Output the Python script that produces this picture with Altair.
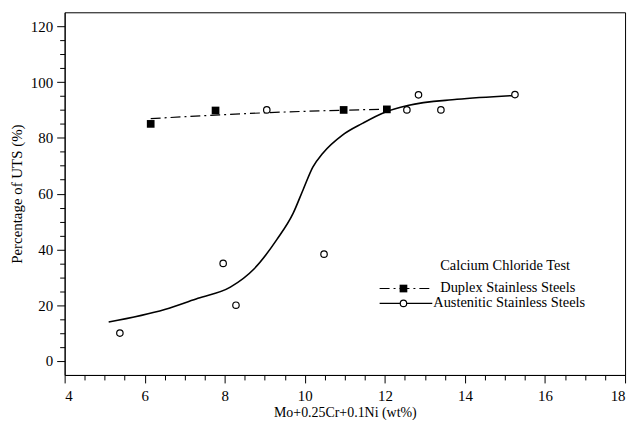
import altair as alt
import pandas as pd

duplex_x = [6.15, 7.77, 10.97, 12.05]
duplex_y = [85, 89.8, 90, 90.2]
aust_x = [5.38, 7.96, 8.28, 9.05, 10.48, 12.55, 12.84, 13.4, 15.25]
aust_y = [10, 35, 20, 90, 38.3, 90, 95.4, 90, 95.5]

# Fitted curves
duplex_fit_x = [6.15, 9.4, 12.1]
duplex_fit_y = [86.9, 89.2, 90.3]
aust_fit_x = [5.1, 6.5, 7.33, 8.14, 8.73, 9.3, 9.71, 9.96, 10.2, 10.45, 10.94, 11.44, 12.0, 12.57, 13.8, 15.25]
aust_fit_y = [14, 18.5, 22.5, 26.5, 33, 43.5, 53, 61.5, 69.5, 74.5, 81, 85.2, 89.2, 91.6, 93.8, 95.2]

# Axis ticks
x_ticks = [4, 4.5, 5, 5.5, 6, 6.5, 7, 7.5, 8, 8.5, 9, 9.5, 10, 10.5, 11, 11.5, 12,
           12.5, 13, 13.5, 14, 14.5, 15, 15.5, 16, 16.5, 17, 17.5, 18]
y_ticks = [0, 5, 10, 15, 20, 25, 30, 35, 40, 45, 50, 55, 60, 65, 70, 75, 80, 85,
           90, 95, 100, 105, 110, 115, 120]

legend_title = "Calcium Chloride Test"
legend_labels = ["Duplex Stainless Steels", "Austenitic Stainless Steels"]

FONT = "Liberation Serif"

duplex_df = pd.DataFrame({"x": duplex_x, "y": duplex_y})
aust_df = pd.DataFrame({"x": aust_x, "y": aust_y})
dfit_df = pd.DataFrame({"x": duplex_fit_x, "y": duplex_fit_y})
afit_df = pd.DataFrame({"x": aust_fit_x, "y": aust_fit_y})

xscale = alt.Scale(domain=[4, 18], nice=False, zero=False)
yscale = alt.Scale(domain=[-5, 125], nice=False, zero=False)

xaxis = alt.Axis(
    values=x_ticks,
    labelExpr="datum.value % 2 === 0 ? '' + datum.value : ''",
    tickSize=alt.condition("datum.value % 2 === 0", alt.value(8), alt.value(5)),
    labelPadding=6,
    titlePadding=2,
    titleFontSize=14,
    grid=False,
)
yaxis = alt.Axis(
    values=y_ticks,
    labelExpr="datum.value % 20 === 0 ? '' + datum.value : ''",
    tickSize=alt.condition("datum.value % 20 === 0", alt.value(8), alt.value(5)),
    labelPadding=4,
    titlePadding=6,
    grid=False,
)

X = alt.X("x:Q", scale=xscale, axis=xaxis, title="Mo+0.25Cr+0.1Ni (wt%)")
Y = alt.Y("y:Q", scale=yscale, axis=yaxis, title="Percentage of UTS (%)")

aust_curve = alt.Chart(afit_df).mark_line(
    color="black", strokeWidth=1.6, interpolate="monotone"
).encode(x=X, y=Y)

duplex_curve = alt.Chart(dfit_df).mark_line(
    color="black", strokeWidth=1.2, strokeDash=[10, 4, 2, 4], interpolate="monotone"
).encode(x=X, y=Y)

aust_pts = alt.Chart(aust_df).mark_point(
    shape="circle", size=42, filled=False, color="black", fill="white",
    fillOpacity=1, strokeWidth=1.2, opacity=1
).encode(x=X, y=Y)

duplex_pts = alt.Chart(duplex_df).mark_point(
    shape="square", size=60, filled=True, color="black", opacity=1
).encode(x=X, y=Y)

# Legend (custom, drawn inside the plot)
one = pd.DataFrame({"k": [0]})
leg_title = alt.Chart(one).mark_text(
    text=legend_title, font=FONT, fontSize=14.5, align="left", baseline="middle", color="black"
).encode(x=alt.value(378), y=alt.value(255))
leg_d_line = alt.Chart(one).mark_rule(
    color="black", strokeWidth=1.2, strokeDash=[10, 4, 2, 4]
).encode(x=alt.value(317), x2=alt.value(371), y=alt.value(278))
leg_d_pt = alt.Chart(one).mark_point(
    shape="square", size=60, filled=True, color="black", opacity=1
).encode(x=alt.value(341), y=alt.value(278))
leg_d_txt = alt.Chart(one).mark_text(
    text=legend_labels[0], font=FONT, fontSize=14.5, align="left", baseline="middle", color="black"
).encode(x=alt.value(378), y=alt.value(278))
leg_a_line = alt.Chart(one).mark_rule(
    color="black", strokeWidth=1.4
).encode(x=alt.value(317), x2=alt.value(370), y=alt.value(293))
leg_a_pt = alt.Chart(one).mark_point(
    shape="circle", size=42, filled=False, color="black", fill="white",
    fillOpacity=1, strokeWidth=1.2, opacity=1
).encode(x=alt.value(341), y=alt.value(293))
leg_a_txt = alt.Chart(one).mark_text(
    text=legend_labels[1], font=FONT, fontSize=14.5, align="left", baseline="middle", color="black"
).encode(x=alt.value(371), y=alt.value(293))

chart = alt.layer(
    aust_curve, duplex_curve, aust_pts, duplex_pts,
    leg_title, leg_d_line, leg_d_pt, leg_d_txt, leg_a_line, leg_a_pt, leg_a_txt,
).properties(
    width=564,
    height=365,
    background="white",
    autosize=alt.AutoSizeParams(type="none"),
    padding={"left": 57, "top": 3, "right": 8, "bottom": 44},
).configure_view(
    stroke="black", strokeWidth=1
).configure_axis(
    domainColor="black", domainWidth=1, tickColor="black", tickWidth=1,
    labelFont=FONT, labelFontSize=15, labelColor="black",
    titleFont=FONT, titleFontSize=15, titleFontWeight="normal", titleColor="black",
)

chart.save("out.html", embed_options={"renderer": "svg", "actions": False})
